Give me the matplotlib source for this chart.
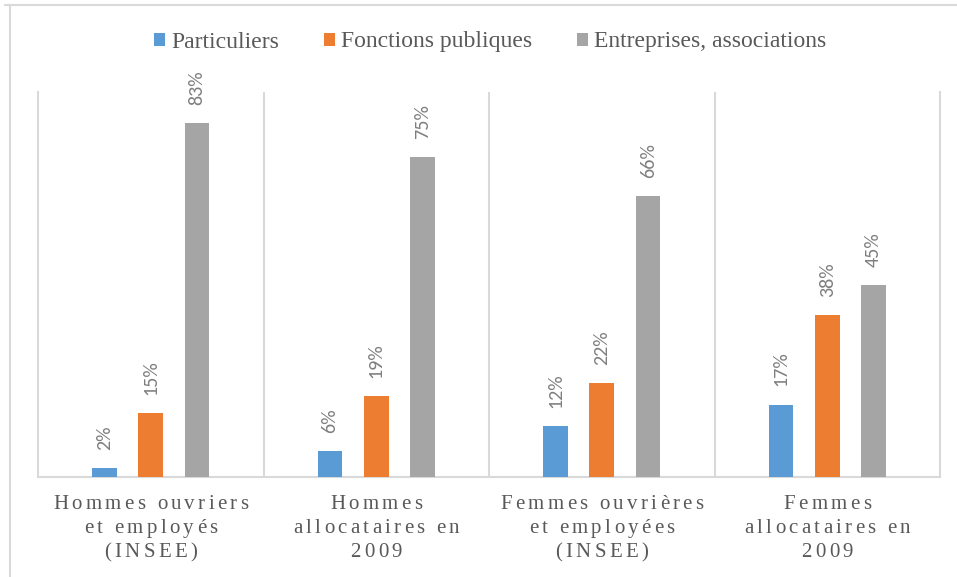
import matplotlib
matplotlib.use("Agg")
import matplotlib.pyplot as plt
import numpy as np
from matplotlib.transforms import IdentityTransform
from matplotlib.font_manager import FontProperties, findfont
from matplotlib.ft2font import FT2Font
from matplotlib.lines import Line2D

# ---- data ----
categories = [
    "Hommes ouvriers\net employés\n(INSEE)",
    "Hommes\nallocataires en\n2009",
    "Femmes ouvrières\net employées\n(INSEE)",
    "Femmes\nallocataires en\n2009",
]
series_names = ["Particuliers", "Fonctions publiques", "Entreprises, associations"]
particuliers = [2, 6, 12, 17]
fonctions_publiques = [15, 19, 22, 38]
entreprises = [83, 75, 66, 45]
colors = ["#5B9BD5", "#ED7D31", "#A5A5A5"]

W, H = 957, 577
fig = plt.figure(figsize=(W / 100, H / 100), dpi=100)
ax = fig.add_axes([38 / W, 1 - 477 / H, (940 - 38) / W, (477 - 92) / H])

x = np.arange(len(categories))
bar_w = 0.109
step = 0.206
value_font = FontProperties(family="Carlito", size=14.5)
series = [particuliers, fonctions_publiques, entreprises]
for k, (vals, name, col) in enumerate(zip(series, series_names, colors)):
    bars = ax.bar(x + (k - 1) * step, vals, bar_w, color=col, label=name, zorder=3)
    ax.bar_label(bars, labels=[f"{v}%" for v in vals], rotation=90, padding=13,
                 fontproperties=value_font, color="#7F7F7F")

ax.set_xlim(-0.5, len(categories) - 0.5)
ax.set_ylim(0, 90.3)
ax.set_yticks([])
ax.set_xticks([])
ax.set_xticks(np.arange(0.5, len(categories) - 1), minor=True)
ax.tick_params(which="both", length=0, labelbottom=False)
ax.grid(which="minor", axis="x", color="#D9D9D9", lw=1.5, zorder=0)
ax.spines["top"].set_visible(False)
for s in ["left", "right", "bottom"]:
    ax.spines[s].set_color("#D9D9D9")
    ax.spines[s].set_linewidth(1.5)

# ---- legend ----
fig.legend(loc="center", bbox_to_anchor=(490 / W, 1 - 42 / H), ncol=3, frameon=False,
           prop=FontProperties(family="Liberation Serif", size=17),
           labelcolor="#595959", handlelength=0.48, handleheight=0.48,
           handletextpad=0.25, columnspacing=1.9)

# ---- category labels with letter spacing ----
label_font = FontProperties(family="Liberation Serif", size=15)
ft = FT2Font(findfont(label_font))
ft.set_size(15, 100)
tracking = 3.3  # pixels between letters
baselines = [H - 509, H - 533, H - 557]


def advance(ch):
    g = ft.load_char(ord(ch))
    return g.linearHoriAdvance / 65536


for i, label in enumerate(categories):
    cx = ax.transData.transform((x[i], 0))[0]
    for line, yb in zip(label.split("\n"), baselines):
        adv = [advance(ch) for ch in line]
        total = sum(adv) + tracking * (len(line) - 1)
        pen = cx - total / 2
        for ch, a in zip(line, adv):
            if ch != " ":
                fig.text(pen, yb, ch, transform=IdentityTransform(), ha="left",
                         va="baseline", fontproperties=label_font, color="#595959")
            pen += a + tracking

# ---- chart frame lines ----
fig.add_artist(Line2D([5, W], [H - 4.5, H - 4.5], transform=IdentityTransform(),
                      color="#D9D9D9", lw=1.5))
fig.add_artist(Line2D([9.5, 9.5], [0, H - 4.5], transform=IdentityTransform(),
                      color="#D9D9D9", lw=1.5))

fig.savefig("out.png", dpi=100)
